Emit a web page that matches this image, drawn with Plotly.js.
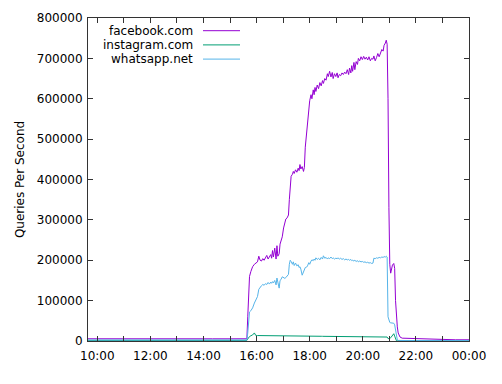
<!DOCTYPE html>
<html>
<head>
<meta charset="utf-8">
<script src="https://cdn.plot.ly/plotly-3.0.1.min.js"></script>
<style>html,body{margin:0;padding:0;background:#fff}#chart{width:502px;height:384px}</style>
</head>
<body>
<div id="chart"></div>
<script>
// Series names
const seriesNames = ["facebook.com", "instagram.com", "whatsapp.net"];

// Sample times (HH:MM on 2021-10-04; "24:00" = midnight)
const times = [
 "09:39","10:30","11:20","12:00","12:50","13:30","14:20","15:00","15:38",
 "15:40","15:42","15:44","15:47","15:51","15:55","15:58","16:02","16:05","16:08",
 "16:11","16:14","16:17","16:20","16:23","16:26","16:29","16:32","16:34","16:36",
 "16:38","16:41","16:44","16:46","16:48","16:51","16:53","16:55","16:58","17:01",
 "17:04","17:06","17:09","17:12","17:14","17:16","17:18","17:21","17:23","17:25",
 "17:28","17:31","17:34","17:36","17:38","17:40","17:43","17:46","17:48","17:50",
 "17:53","17:55","17:58","18:00","18:03","18:05","18:08","18:10","18:12","18:14",
 "18:17","18:20","18:23","18:26","18:29","18:31","18:34","18:37","18:40","18:42",
 "18:45","18:48","18:51","18:53","18:56","18:59","19:02","19:04","19:07","19:10",
 "19:13","19:16","19:19","19:22","19:25","19:28","19:30","19:33","19:35","19:37",
 "19:40","19:42","19:45","19:48","19:50","19:53","19:56","19:59","20:02","20:05",
 "20:08","20:11","20:14","20:17","20:20","20:23","20:25","20:28","20:31","20:34",
 "20:37","20:40","20:43","20:46","20:48","20:51","20:53","20:55","20:57","20:59",
 "21:01","21:03","21:05","21:07","21:10","21:12","21:14","21:16","21:18","21:20",
 "21:24","21:29","21:40","22:00","22:30","23:00","23:30","24:00"
];

const facebook = [
 5500,5800,5400,5300,5600,5600,5400,5400,5500,
 60000,135000,160000,172000,184000,190000,193000,196000,210000,200000,
 198000,204000,200000,206000,212000,203000,209000,214000,205000,224000,
 208000,230000,203000,236000,210000,216000,240000,246000,258000,280000,
 290000,302000,305000,312000,350000,395000,408000,413000,420000,415000,
 424000,418000,428000,422000,437000,426000,432000,420000,430000,480000,
 520000,530000,565000,595000,610000,600000,622000,610000,628000,618000,
 634000,625000,640000,632000,645000,638000,650000,646000,662000,655000,
 668000,654000,665000,650000,662000,655000,664000,652000,660000,657000,
 664000,660000,666000,662000,672000,660000,676000,664000,682000,668000,
 690000,672000,692000,685000,700000,694000,704000,697000,705000,698000,
 703000,696000,704000,694000,700000,698000,706000,694000,702000,712000,
 704000,716000,722000,718000,732000,738000,745000,735000,600000,330000,
 190000,168000,178000,188000,192000,180000,100000,52000,35000,20000,
 10000,7000,6500,6000,4500,3500,3000,3000
];

const instagram = [
 1500,1500,1400,1400,1500,1500,1400,1400,1500,
 5000,9000,11000,13000,15000,20000,14000,13500,13500,13500,
 13400,13400,13400,13300,13300,13300,13200,13200,13200,13100,
 13100,13100,13000,13000,13000,12900,12900,12900,12800,12800,
 12800,12700,12700,12700,12600,12600,12600,12500,12500,12500,
 12400,12400,12400,12300,12300,12300,12200,12200,12200,12100,
 12100,12100,12000,12000,12000,11900,11900,11900,11800,11800,
 11800,11700,11700,11700,11600,11600,11600,11500,11500,11500,
 11400,11400,11400,11300,11300,11300,11200,11200,11200,11100,
 11100,11100,11000,11000,11000,10900,10900,10900,10800,10800,
 10800,10700,10700,10700,10600,10600,10600,10500,10500,10500,
 10400,10400,10400,10300,10300,10300,10200,10200,10200,10100,
 10100,10100,10000,10000,10000,9900,9900,9800,6000,5000,
 6000,8000,11000,15000,18000,12000,3000,800,500,500,
 500,500,500,500,500,500,500,500
];

const whatsapp = [
 2500,2600,2400,2400,2500,2500,2400,2400,2500,
 20000,60000,72000,75000,82000,94000,100000,110000,128000,134000,
 137000,140000,138000,142000,140000,145000,141000,146000,143000,147000,
 144000,150000,139000,156000,148000,131000,150000,152000,159000,157000,
 155000,157000,161000,165000,190000,200000,197000,190000,196000,187000,
 193000,186000,189000,182000,184000,178000,163000,170000,175000,182000,
 183000,186000,194000,190000,198000,201000,199000,203000,200000,206000,
 202000,205000,201000,207000,203000,211000,205000,207000,203000,206000,
 204000,208000,204000,206000,203000,205000,204000,206000,203000,205000,
 202000,204000,201000,203000,201000,202000,200000,202000,199000,200000,
 198000,200000,197000,199000,196000,198000,196000,197000,195000,196000,
 194000,195000,193000,194000,192000,193000,205000,204000,206000,205000,
 207000,206000,208000,207000,209000,208000,210000,208000,60000,48000,
 46000,45000,45000,44000,44000,40000,27000,10000,3000,1500,
 1200,1000,1000,1000,1000,1000,1000,1000
];

// Axis tick labels
const xTickHours = [10,11,12,13,14,15,16,17,18,19,20,21,22,23,24];
const xTickText = ["10:00","","12:00","","14:00","","16:00","","18:00","","20:00","","22:00","","00:00"];
const yTickVals = [0,100000,200000,300000,400000,500000,600000,700000,800000];

const colors = ["#9400d3", "#009e73", "#56b4e9"];

function toDate(t){
  if (t === "24:00") return "2021-10-05 00:00";
  return "2021-10-04 " + t;
}
function hourDate(h){
  if (h === 24) return "2021-10-05 00:00";
  return "2021-10-04 " + String(h).padStart(2,"0") + ":00";
}
const x = times.map(toDate);
const seriesVals = [facebook, instagram, whatsapp];

const traces = seriesVals.map((v,i)=>({
  x: x, y: v, type: "scatter", mode: "lines", name: seriesNames[i],
  line: {color: colors[i], width: 1}, showlegend: false
}));

// plot area in px
const L = 88, R = 33, T = 18, B = 43, W = 502, H = 384;
const pw = W - L - R, ph = H - T - B;
function px2paperX(p){ return (p - L)/pw; }
function px2paperY(p){ return (H - B - p)/ph; }

const legendRowsY = [30.7, 44.9, 59.1];
const annotations = seriesNames.map((n,i)=>({
  text: n, xref: "paper", yref: "paper",
  x: px2paperX(195), y: px2paperY(legendRowsY[i]),
  xanchor: "right", yanchor: "middle", showarrow: false,
  font: {family: "DejaVu Sans", size: 12, color: "#000"}
}));
const shapes = seriesNames.map((n,i)=>({
  type: "line", xref: "paper", yref: "paper",
  x0: px2paperX(203), x1: px2paperX(240),
  y0: px2paperY(legendRowsY[i]), y1: px2paperY(legendRowsY[i]),
  line: {color: colors[i], width: 1}
}));

const axisCommon = {
  showline: true, linecolor: "#333", linewidth: 1, mirror: "allticks",
  ticks: "inside", ticklen: 5, tickcolor: "#333", tickwidth: 1,
  showgrid: false, zeroline: false,
  tickfont: {family: "DejaVu Sans", size: 12, color: "#000"}
};

const layout = {
  width: W, height: H,
  margin: {l: L, r: R, t: T, b: B, pad: 0},
  paper_bgcolor: "#fff", plot_bgcolor: "#fff",
  font: {family: "DejaVu Sans", size: 12, color: "#000"},
  xaxis: Object.assign({}, axisCommon, {
    type: "date",
    range: ["2021-10-04 09:39", "2021-10-05 00:00"],
    tickmode: "array",
    tickvals: xTickHours.map(hourDate),
    ticktext: xTickText,
    ticklabelstandoff: 4
  }),
  yaxis: Object.assign({}, axisCommon, {
    range: [0, 800000],
    tickmode: "array",
    tickvals: yTickVals,
    ticktext: yTickVals.map(v=>String(v)),
    ticklabelstandoff: 2,
    title: {text: "Queries Per Second", font: {family: "DejaVu Sans", size: 12, color: "#000"}, standoff: 9}
  }),
  annotations: annotations,
  shapes: shapes,
  showlegend: false
};

Plotly.newPlot("chart", traces, layout, {displayModeBar: false, staticPlot: true});
</script>
</body>
</html>
